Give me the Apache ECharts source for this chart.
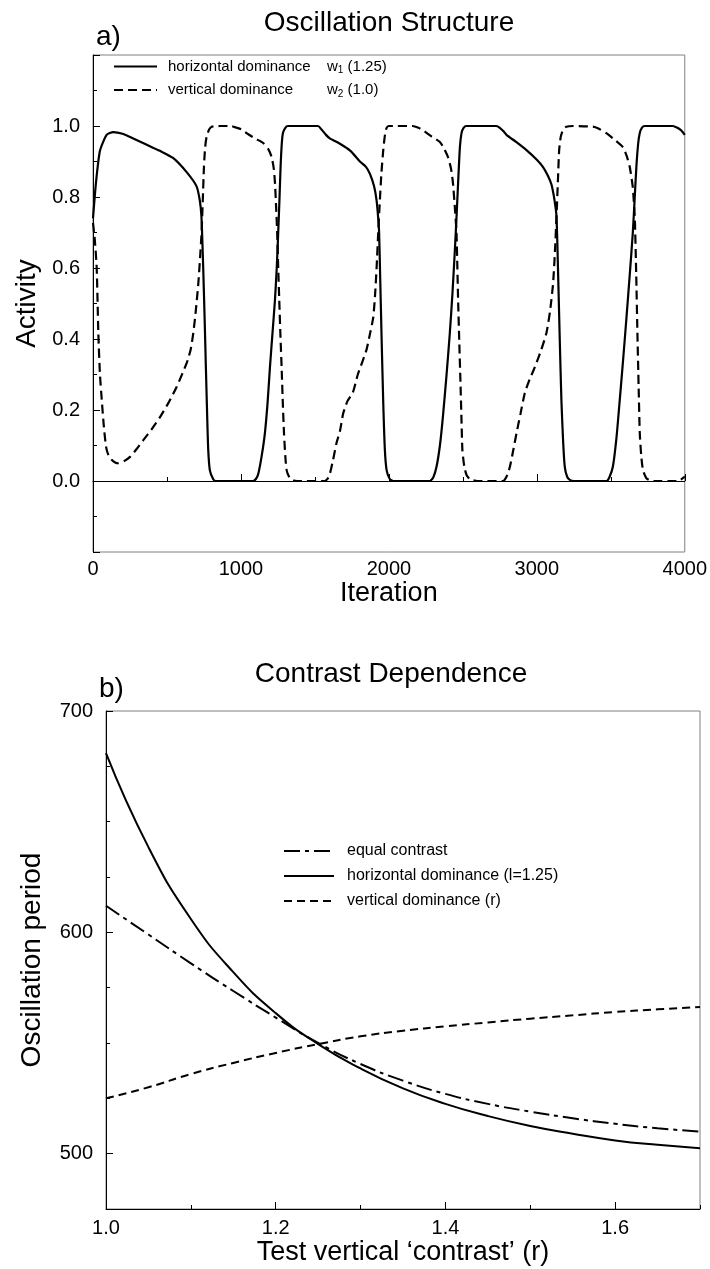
<!DOCTYPE html>
<html><head><meta charset="utf-8">
<script src="https://cdn.jsdelivr.net/npm/echarts@6/dist/echarts.min.js"></script>
<style>html,body{margin:0;padding:0;background:#fff}#c{width:710px;height:1269px}</style>
</head><body><div id="c"></div>
<script>
// ---------- Panel a) Oscillation Structure ----------
const iterH = [0,20,47,92,137,200,272,360,452,541,633,700,722,733,745,755,763,772,779,790,813,830,1080,1100,1117,1140,1162,1180,1196,1213,1230,1242,1252,1261,1268,1276,1284,1300,1318,1520,1545,1575,1601,1669,1740,1804,1845,1872,1900,1917,1928,1934,1942,1950,1962,1973,1985,2007,2030,2277,2300,2322,2345,2365,2390,2412,2430,2446,2458,2468,2480,2491,2505,2525,2727,2750,2775,2795,2860,2930,3000,3041,3075,3099,3120,3133,3143,3155,3166,3178,3189,3205,3223,3250,3471,3490,3514,3538,3561,3585,3606,3628,3649,3662,3673,3685,3696,3710,3730,3919,3950,3975,4000];
const actH = [0.74,0.84,0.93,0.975,0.983,0.978,0.965,0.948,0.93,0.91,0.87,0.83,0.79,0.745,0.60,0.45,0.32,0.18,0.087,0.03,0.005,0,0,0.005,0.02,0.07,0.135,0.22,0.32,0.415,0.51,0.60,0.70,0.80,0.885,0.95,0.98,0.995,1.0,1.0,0.99,0.975,0.965,0.95,0.93,0.90,0.885,0.865,0.83,0.79,0.74,0.70,0.56,0.417,0.22,0.087,0.03,0.005,0,0,0.01,0.04,0.10,0.18,0.30,0.417,0.53,0.65,0.75,0.84,0.94,0.98,0.995,1.0,1.0,0.995,0.985,0.975,0.955,0.932,0.905,0.885,0.86,0.835,0.79,0.745,0.60,0.40,0.23,0.11,0.04,0.012,0.003,0,0,0.01,0.04,0.12,0.23,0.35,0.46,0.58,0.70,0.80,0.885,0.95,0.98,0.995,1.0,1.0,0.995,0.988,0.975];
const iterV = [0,12,25,36,47,59,72,88,105,126,150,171,210,250,295,340,395,453,510,565,633,660,678,695,712,724,734,742,750,758,768,785,802,858,930,971,1005,1038,1095,1151,1185,1207,1222,1230,1238,1245,1252,1259,1267,1275,1283,1291,1300,1309,1330,1353,1380,1565,1585,1601,1623,1646,1669,1691,1720,1757,1790,1820,1849,1875,1894,1906,1917,1928,1939,1950,1962,1972,1984,2000,2160,2200,2230,2290,2345,2375,2399,2420,2433,2446,2457,2463,2468,2476,2484,2491,2497,2510,2525,2545,2570,2600,2770,2795,2818,2840,2863,2890,2919,2950,2986,3030,3065,3090,3110,3123,3133,3143,3151,3162,3178,3200,3245,3380,3420,3470,3530,3583,3608,3628,3648,3662,3672,3680,3688,3696,3706,3718,3740,3764,3790,3944,3970,4000];
const actV = [0.727,0.68,0.60,0.417,0.30,0.23,0.16,0.097,0.072,0.06,0.052,0.05,0.056,0.068,0.09,0.115,0.145,0.18,0.22,0.265,0.332,0.37,0.417,0.48,0.557,0.63,0.70,0.79,0.885,0.94,0.97,0.99,0.998,1.0,1.0,0.995,0.99,0.98,0.965,0.952,0.935,0.913,0.88,0.84,0.77,0.70,0.60,0.51,0.41,0.32,0.22,0.135,0.07,0.03,0.008,0.002,0,0,0.006,0.02,0.06,0.107,0.14,0.19,0.225,0.25,0.30,0.335,0.37,0.42,0.46,0.52,0.60,0.70,0.79,0.87,0.932,0.97,0.994,1.0,1.0,0.995,0.988,0.97,0.955,0.935,0.913,0.88,0.84,0.77,0.70,0.60,0.51,0.39,0.276,0.17,0.087,0.04,0.017,0.006,0.002,0,0,0.012,0.04,0.085,0.135,0.19,0.248,0.285,0.32,0.37,0.417,0.48,0.557,0.65,0.745,0.85,0.932,0.97,0.99,0.998,1.0,0.998,0.992,0.98,0.96,0.94,0.915,0.885,0.83,0.745,0.58,0.417,0.27,0.135,0.07,0.03,0.008,0.002,0,0,0.003,0.012];
const seriesNamesA = ['horizontal dominance', 'vertical dominance'];
const legendWeightsA = [['1', '(1.25)'], ['2', '(1.0)']];
const iterTicks = [0, 1000, 2000, 3000, 4000];

// ---------- Panel b) Contrast Dependence ----------
const contrastR = [1.0,1.05,1.1,1.15,1.2,1.25,1.3,1.35,1.4,1.45,1.5,1.55,1.6,1.65,1.7];
const periodEqual = [612,599,586,573.5,561.5,550,540.5,533,527,522.5,519,516,513.5,511.5,510];
const periodHoriz = [681,638.5,606,582,563.5,549.5,538.5,529.5,522.5,517,512.5,509,506,504,502.5];
const periodVert = [525,530,536,541,545.5,549.5,553,555.5,557.5,559.3,561,562.5,564,565.2,566.3];
const seriesNamesB = ['equal contrast', 'horizontal dominance (l=1.25)', 'vertical dominance (r)'];
const contrastTicks = [1.0, 1.2, 1.4, 1.6];
const periodTicks = [500, 600, 700];

const FONT = '"Liberation Sans", Arial, sans-serif';
const zip = (a, b) => a.map((v, i) => [v, b[i]]);

const chart = echarts.init(document.getElementById('c'), null, {renderer: 'canvas'});
const axisLineStyle = {color: '#000', width: 1};
const lbl = {fontFamily: FONT, fontSize: 20, color: '#000'};
const yNameStyle = {fontFamily: FONT, fontSize: 28, color: '#000'};
const xNameStyle = {fontFamily: FONT, fontSize: 27, color: '#000'};
const titleStyle = {fontFamily: FONT, fontSize: 28, fontWeight: 'normal', color: '#000'};

chart.setOption({
  animation: false,
  backgroundColor: '#fff',
  title: [
    {text: 'Oscillation Structure', left: 389, top: 9, textAlign: 'center', padding: 0, textStyle: titleStyle},
    {text: 'a)', left: 96, top: 23, padding: 0, textStyle: titleStyle},
    {text: 'Contrast Dependence', left: 391, top: 660, textAlign: 'center', padding: 0, textStyle: titleStyle},
    {text: 'b)', left: 99, top: 675, padding: 0, textStyle: titleStyle}
  ],
  legend: [
    {
      data: seriesNamesA, orient: 'vertical', left: 113, top: 59, padding: 0,
      itemWidth: 43, itemHeight: 14, itemGap: 7, selectedMode: false,
      itemStyle: {opacity: 0},
      formatter: name => {
        const i = seriesNamesA.indexOf(name);
        return '{a|' + name + '}{b|w}{s|' + legendWeightsA[i][0] + '}{b| ' + legendWeightsA[i][1] + '}';
      },
      textStyle: {
        fontFamily: FONT, fontSize: 15, color: '#000', padding: [0, 0, 0, 6],
        rich: {
          a: {fontFamily: FONT, fontSize: 15, width: 159, color: '#000'},
          b: {fontFamily: FONT, fontSize: 15, color: '#000'},
          s: {fontFamily: FONT, fontSize: 10, color: '#000', padding: [8, 0, 0, 0]}
        }
      }
    },
    {
      data: seriesNamesB, orient: 'vertical', left: 283, top: 843, padding: 0,
      itemWidth: 50, itemHeight: 16, itemGap: 9, selectedMode: false,
      itemStyle: {opacity: 0},
      textStyle: {fontFamily: FONT, fontSize: 16, color: '#000', padding: [0, 0, 0, 8]}
    }
  ],
  grid: [
    {left: 93, right: 25, top: 55, bottom: 717, show: true, borderColor: '#808080', borderWidth: 1, containLabel: false},
    {left: 106, right: 10, top: 711, bottom: 60, show: true, borderColor: '#808080', borderWidth: 1, containLabel: false}
  ],
  xAxis: [
    {gridIndex: 0, type: 'value', min: 0, max: 4000, interval: 1000,
     axisLine: {show: true, lineStyle: axisLineStyle},
     axisTick: {show: true, inside: true, length: 7, lineStyle: axisLineStyle},
     minorTick: {show: true, splitNumber: 2, length: 4, lineStyle: axisLineStyle},
     splitLine: {show: false},
     axisLabel: Object.assign({margin: 7, customValues: iterTicks, formatter: v => String(Math.round(v))}, lbl),
     name: 'Iteration', nameLocation: 'middle', nameGap: 27, nameTextStyle: xNameStyle},
    {gridIndex: 1, type: 'value', min: 1.0, max: 1.7, interval: 0.1,
     axisLine: {show: true, lineStyle: axisLineStyle},
     axisTick: {show: true, inside: true, length: 7, customValues: contrastTicks, lineStyle: axisLineStyle},
     splitLine: {show: false},
     axisLabel: Object.assign({margin: 9, customValues: contrastTicks, formatter: v => v.toFixed(1)}, lbl),
     name: 'Test vertical \u2018contrast\u2019 (r)', nameLocation: 'middle', nameGap: 28, nameTextStyle: xNameStyle},
    {gridIndex: 1, type: 'value', min: 1.0, max: 1.7, interval: 0.1, position: 'bottom', offset: 0,
     axisLine: {show: false},
     axisTick: {show: true, inside: true, length: 4, lineStyle: axisLineStyle},
     splitLine: {show: false}, axisLabel: {show: false}}
  ],
  yAxis: [
    {gridIndex: 0, type: 'value', min: -0.2, max: 1.2, interval: 0.2,
     axisLine: {show: true, lineStyle: axisLineStyle},
     axisTick: {show: true, inside: true, length: 7, lineStyle: axisLineStyle},
     minorTick: {show: true, splitNumber: 2, length: 4, lineStyle: axisLineStyle},
     splitLine: {show: false},
     axisLabel: Object.assign({margin: 13, formatter: v => (v > -0.01 && v < 1.01) ? v.toFixed(1) : ''}, lbl),
     name: 'Activity', nameLocation: 'middle', nameGap: 52, nameTextStyle: yNameStyle},
    {gridIndex: 1, type: 'value', min: 475, max: 700, interval: 25,
     axisLine: {show: true, lineStyle: axisLineStyle},
     axisTick: {show: true, inside: true, length: 7, customValues: periodTicks, lineStyle: axisLineStyle},
     splitLine: {show: false},
     axisLabel: Object.assign({margin: 13, customValues: periodTicks}, lbl),
     name: 'Oscillation period', nameLocation: 'middle', nameGap: 60, nameTextStyle: yNameStyle},
    {gridIndex: 1, type: 'value', min: 475, max: 700, interval: 25, position: 'left', offset: 0,
     axisLine: {show: false},
     axisTick: {show: true, inside: true, length: 4, lineStyle: axisLineStyle},
     splitLine: {show: false}, axisLabel: {show: false}}
  ],
  series: [
    {name: seriesNamesA[0], type: 'line', xAxisIndex: 0, yAxisIndex: 0, data: zip(iterH, actH),
     symbol: 'none', smooth: 0.2, lineStyle: {color: '#000', width: 2.2, type: 'solid'}, itemStyle: {color: '#000'}},
    {name: seriesNamesA[1], type: 'line', xAxisIndex: 0, yAxisIndex: 0, data: zip(iterV, actV),
     symbol: 'none', smooth: 0.2, lineStyle: {color: '#000', width: 2.2, type: [9, 5]}, itemStyle: {color: '#000'}},
    {name: seriesNamesB[0], type: 'line', xAxisIndex: 1, yAxisIndex: 1, data: zip(contrastR, periodEqual),
     symbol: 'none', smooth: true, lineStyle: {color: '#000', width: 2, type: [16, 5, 4, 5]}, itemStyle: {color: '#000'}},
    {name: seriesNamesB[1], type: 'line', xAxisIndex: 1, yAxisIndex: 1, data: zip(contrastR, periodHoriz),
     symbol: 'none', smooth: true, lineStyle: {color: '#000', width: 2, type: 'solid'}, itemStyle: {color: '#000'}},
    {name: seriesNamesB[2], type: 'line', xAxisIndex: 1, yAxisIndex: 1, data: zip(contrastR, periodVert),
     symbol: 'none', smooth: true, lineStyle: {color: '#000', width: 2, type: [8, 5]}, itemStyle: {color: '#000'}}
  ]
});
</script></body></html>
